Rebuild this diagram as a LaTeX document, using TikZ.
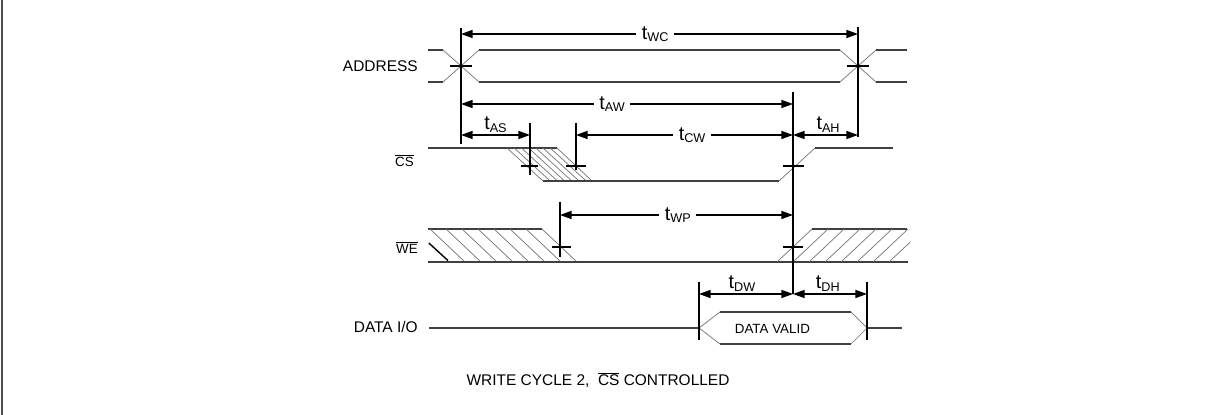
\documentclass[tikz,border=0pt]{standalone}
\usepackage{fontspec}
\setmainfont{Liberation Sans}
\usetikzlibrary{positioning, arrows.meta}

\newcommand{\tsub}[1]{{\fontsize{14}{14}\selectfont t}\raisebox{-1.7pt}{\fontsize{9}{9}\selectfont #1}}

\begin{document}
\begin{tikzpicture}[
    sig/.style={line width=1.1pt, black!75},
    slope/.style={line width=0.5pt, black!55},
    hatch/.style={line width=0.5pt, black!55},
    ext/.style={line width=1pt},
    tck/.style={line width=0.8pt},
    dimarr/.style={line width=1pt, {Triangle[length=0.29cm, width=0.2cm]}-{Triangle[length=0.29cm, width=0.2cm]}},
    lbl/.style={font=\fontsize{11}{13}\selectfont, anchor=east, inner sep=0pt},
    sublbl/.style={font=\fontsize{9.5}{11}\selectfont, anchor=east, inner sep=0pt},
    tlbl/.style={fill=white, inner xsep=4pt, inner ysep=1pt},
    tup/.style={above=1.5pt, inner sep=0pt},
]

% === Frame ===
\useasboundingbox (0,0) rectangle (30.45,10.375);
\draw[line width=1.4pt, black!70] (0.05,0) -- (0.05,10.375);

% === Signal names ===
\node[lbl]    (nAddr) at (10.45,8.725) {ADDRESS};
\node[sublbl] (nCS)   at (10.35,6.36) {$\overline{\mbox{CS}}$};
\node[sublbl] (nWE)   at (10.45,4.19) {$\overline{\mbox{WE}}$};
\node[lbl]    (nData) at (10.45,2.2) {DATA I/O};

% === ADDRESS ===
\draw[sig] (10.7,9.125) -- (11.075,9.125);
\draw[sig] (10.7,8.325) -- (11.075,8.325);
\draw[slope] (11.075,9.125) -- (11.975,8.325);
\draw[slope] (11.075,8.325) -- (11.975,9.125);
\draw[sig] (11.975,9.125) -- (21.0,9.125);
\draw[sig] (11.975,8.325) -- (21.0,8.325);
\draw[slope] (21.0,9.125) -- (21.9,8.325);
\draw[slope] (21.0,8.325) -- (21.9,9.125);
\draw[sig] (21.9,9.125) -- (22.675,9.125);
\draw[sig] (21.9,8.325) -- (22.675,8.325);
\draw[tck] (11.25,8.725) -- (11.8,8.725);
\draw[tck] (21.175,8.725) -- (21.725,8.725);

% === CS ===
\draw[sig] (10.7,6.675) -- (13.925,6.675);
\draw[slope] (12.675,6.675) -- (13.575,5.85);
\draw[slope] (13.925,6.675) -- (14.8,5.85);
\begin{scope}
\clip (12.675,6.675) -- (13.925,6.675) -- (14.8,5.85) -- (13.575,5.85) -- cycle;
\foreach \k in {1,...,6}
    \draw[hatch] ({12.675+0.18*\k},6.675) -- ++(0.9,-0.825);
\end{scope}
\draw[sig] (13.575,5.85) -- (19.475,5.85);
\draw[slope] (19.475,5.85) -- (20.375,6.675);
\draw[sig] (20.375,6.675) -- (22.325,6.675);
\draw[tck] (13.025,6.225) -- (13.45,6.225);
\draw[tck] (14.15,6.225) -- (14.65,6.225);
\draw[tck] (19.575,6.225) -- (20.1,6.225);

% === WE ===
\draw[sig] (10.7,4.65) -- (13.55,4.65);
\draw[slope] (13.55,4.65) -- (14.425,3.825);
\begin{scope}
\clip (10.7,4.65) -- (13.55,4.65) -- (14.425,3.825) -- (10.7,3.825) -- cycle;
\foreach \k in {0,...,6}
    \draw[hatch] ({10.75+0.4*\k},4.65) -- ++(0.875,-0.825);
\end{scope}
\draw[line width=1pt] (10.72,4.3) -- (11.2,3.86);
\draw[sig] (10.7,3.825) -- (22.7,3.825);
\draw[slope] (19.425,3.825) -- (20.3,4.65);
\draw[sig] (20.3,4.65) -- (22.675,4.65);
\begin{scope}
\clip (19.425,3.825) -- (20.3,4.65) -- (22.75,4.65) -- (22.75,3.825) -- cycle;
\foreach \k in {1,...,7}
    \draw[hatch] ({19.425+0.4*\k},3.825) -- ++(0.875,0.825);
\end{scope}
\draw[tck] (13.8,4.2) -- (14.275,4.2);
\draw[tck] (19.575,4.2) -- (20.075,4.2);

% === DATA I/O ===
\draw[sig] (10.725,2.175) -- (17.475,2.175);
\draw[slope] (17.475,2.175) -- (18.0,2.575);
\draw[slope] (17.475,2.175) -- (18.0,1.775);
\draw[sig] (18.0,2.575) -- (21.275,2.575);
\draw[sig] (18.0,1.775) -- (21.275,1.775);
\draw[slope] (21.275,2.575) -- (21.675,2.175);
\draw[slope] (21.275,1.775) -- (21.675,2.175);
\draw[sig] (21.675,2.175) -- (22.55,2.175);
\node[font=\fontsize{9.5}{11}\selectfont] (valid) at (19.31,2.15) {DATA VALID};

% === Extension lines ===
\draw[ext] (11.525,9.675) -- (11.525,6.775);
\draw[ext] (21.45,9.7) -- (21.45,6.95);
\draw[ext] (19.825,8.075) -- (19.825,3.025);
\draw[ext] (13.25,7.3) -- (13.25,6.0);
\draw[ext] (14.4,7.3) -- (14.4,6.125);
\draw[ext] (14.0,5.325) -- (14.0,3.95);
\draw[ext] (17.475,3.325) -- (17.475,1.875);
\draw[ext] (21.675,3.325) -- (21.675,1.875);

% === Timing arrows ===
\coordinate (wcL) at (11.525,9.525);  \coordinate (wcR) at (21.45,9.525);
\coordinate (awL) at (11.525,7.775);  \coordinate (awR) at (19.825,7.775);
\coordinate (asL) at (11.525,7.0);    \coordinate (asR) at (13.25,7.0);
\coordinate (cwL) at (14.4,7.0);      \coordinate (cwR) at (19.825,7.0);
\coordinate (ahR) at (21.45,7.0);
\coordinate (wpL) at (14.0,5.0);      \coordinate (wpR) at (19.825,5.0);
\coordinate (dwL) at (17.475,3.025);  \coordinate (dwR) at (19.825,3.025);
\coordinate (dhR) at (21.675,3.025);

\draw[dimarr] (wcL) -- (wcR) node[pos=0.489, tlbl] (tWC) {\tsub{WC}};
\draw[dimarr] (awL) -- (awR) node[pos=0.455, tlbl] (tAW) {\tsub{AW}};
\draw[dimarr] (asL) -- (asR) node[midway, tup] (tAS) {\tsub{AS}};
\draw[dimarr] (cwL) -- (cwR) node[pos=0.535, tlbl] (tCW) {\tsub{CW}};
\draw[dimarr] (cwR) -- (ahR) node[pos=0.54, tup] (tAH) {\tsub{AH}};
\draw[dimarr] (wpL) -- (wpR) node[pos=0.506, tlbl] (tWP) {\tsub{WP}};
\draw[dimarr] (dwL) -- (dwR) node[pos=0.457, tup] (tDW) {\tsub{DW}};
\draw[dimarr] (dwR) -- (dhR) node[pos=0.47, tup] (tDH) {\tsub{DH}};

% === Caption ===
\node[font=\fontsize{11}{13}\selectfont] (cap) at (14.95,0.88) {WRITE CYCLE 2, \ $\overline{\mbox{CS}}$ CONTROLLED};

\end{tikzpicture}
\end{document}
